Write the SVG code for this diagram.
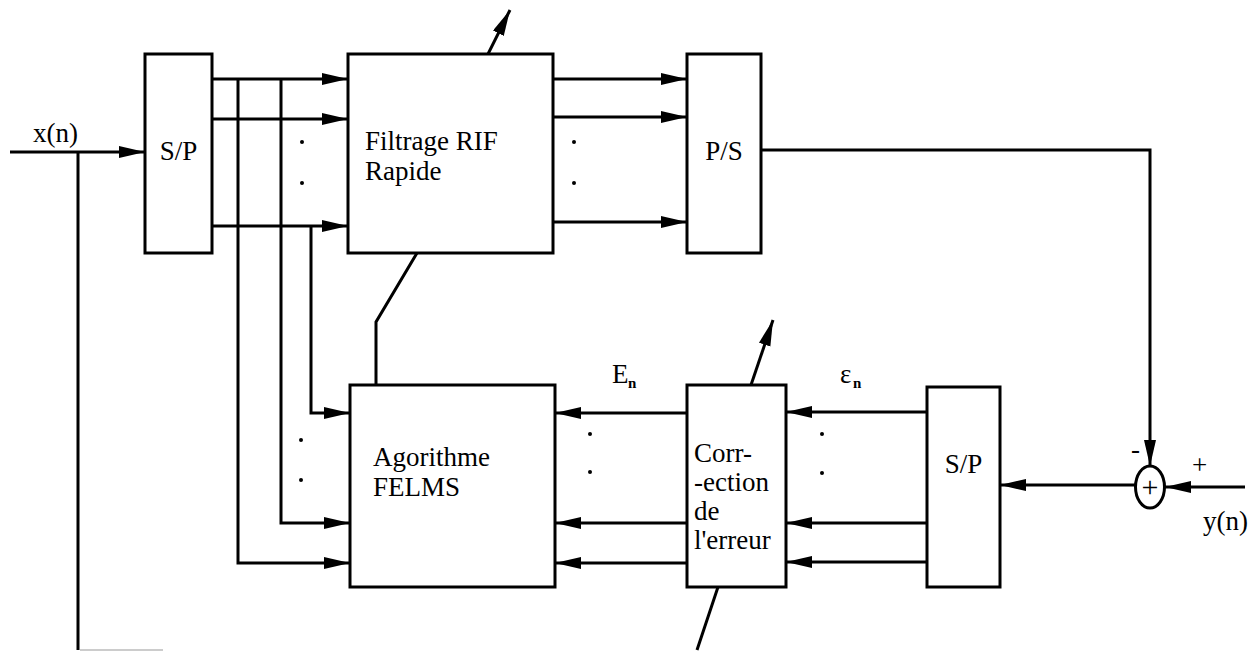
<svg xmlns="http://www.w3.org/2000/svg" width="1253" height="651" viewBox="0 0 1253 651">
<style>
.box{fill:#fff;stroke:#000;stroke-width:3}
.ln{fill:none;stroke:#000;stroke-width:3}
.arr{fill:none;stroke:#000;stroke-width:3;marker-end:url(#ah)}
.t{font-family:"Liberation Serif","Times New Roman",serif;font-size:27px;fill:#000}
.tm{font-family:"Liberation Serif","Times New Roman",serif;font-size:27px;fill:#000;text-anchor:middle}
.sub{font-family:"Liberation Serif","Times New Roman",serif;font-size:15px;font-weight:bold;fill:#000}
.dot{fill:#000}
</style>
<defs>
<marker id="ah" markerUnits="userSpaceOnUse" markerWidth="28" markerHeight="14" refX="26" refY="6" orient="auto">
<path d="M0,0 L26,6 L0,12 z" fill="#000"/>
</marker>
</defs>
<rect width="1253" height="651" fill="#fff"/>

<g id="connectors">
<path class="arr" d="M10,152 H145"/>
<path class="ln" d="M78,152 V650"/>
<path d="M80,650 H163" stroke="#bbb" stroke-width="1.5" fill="none"/>
<path class="arr" d="M212,79 H348"/>
<path class="arr" d="M212,119 H348"/>
<path class="arr" d="M212,226 H348"/>
<path class="arr" d="M238,79 V563 H350"/>
<path class="arr" d="M281,79 V523 H350"/>
<path class="arr" d="M311,226 V413 H350"/>
<path class="arr" d="M553,79 H687"/>
<path class="arr" d="M553,117 H687"/>
<path class="arr" d="M553,222 H687"/>
<path class="arr" d="M761,150 H1150 V466"/>
<path class="arr" d="M1245,487 H1165"/>
<path class="arr" d="M1135,485 H1000"/>
<path class="arr" d="M927,412 H786"/>
<path class="arr" d="M927,523 H786"/>
<path class="arr" d="M927,562 H786"/>
<path class="arr" d="M687,413 H555"/>
<path class="arr" d="M687,523 H555"/>
<path class="arr" d="M687,563 H555"/>
<path class="arr" d="M488,54 L510,10"/>
<path class="ln" d="M417,253 L376,322 V385"/>
<path class="arr" d="M751,385 L773,320"/>
<path class="ln" d="M718,587 L697,650"/>
</g>

<g id="dots">
<circle class="dot" cx="302" cy="142" r="2"/>
<circle class="dot" cx="302" cy="183" r="2"/>
<circle class="dot" cx="574" cy="142" r="2"/>
<circle class="dot" cx="574" cy="183" r="2"/>
<circle class="dot" cx="301" cy="440" r="2"/>
<circle class="dot" cx="301" cy="480" r="2"/>
<circle class="dot" cx="590" cy="434" r="2"/>
<circle class="dot" cx="590" cy="472" r="2"/>
<circle class="dot" cx="822" cy="434" r="2"/>
<circle class="dot" cx="822" cy="473" r="2"/>
</g>

<g id="labels">
<text class="t" x="33" y="142">x(n)</text>
<text class="t" x="1203" y="530">y(n)</text>
<text class="t" x="612" y="383">E</text><text class="sub" x="628" y="388">n</text>
<text class="t" x="840" y="383">ε</text><text class="sub" x="853" y="388">n</text>
<text class="t" x="1131" y="458">-</text>
<text class="t" x="1192" y="474">+</text>
</g>

<g id="sp-in">
<rect class="box" x="145" y="54" width="67" height="199"/>
<text class="tm" x="178.5" y="160">S/P</text>
</g>

<g id="filtrage">
<rect class="box" x="348" y="54" width="205" height="199"/>
<text class="t" x="365" y="150">Filtrage RIF</text>
<text class="t" x="365" y="180">Rapide</text>
</g>

<g id="ps">
<rect class="box" x="687" y="54" width="74" height="199"/>
<text class="tm" x="724" y="160">P/S</text>
</g>

<g id="felms">
<rect class="box" x="350" y="385" width="205" height="202"/>
<text class="t" x="373" y="466">Agorithme</text>
<text class="t" x="373" y="496">FELMS</text>
</g>

<g id="correction">
<rect class="box" x="687" y="385" width="99" height="202"/>
<text class="t" x="694" y="462">Corr-</text>
<text class="t" x="694" y="491">-ection</text>
<text class="t" x="694" y="520">de</text>
<text class="t" x="694" y="549">l'erreur</text>
</g>

<g id="sp-err">
<rect class="box" x="927" y="387" width="73" height="200"/>
<text class="tm" x="963.5" y="473">S/P</text>
</g>

<g id="sum">
<ellipse cx="1150" cy="487" rx="14.5" ry="21" fill="#fff" stroke="#000" stroke-width="3"/>
<text class="tm" x="1150" y="497" style="font-size:30px">+</text>
</g>
</svg>
